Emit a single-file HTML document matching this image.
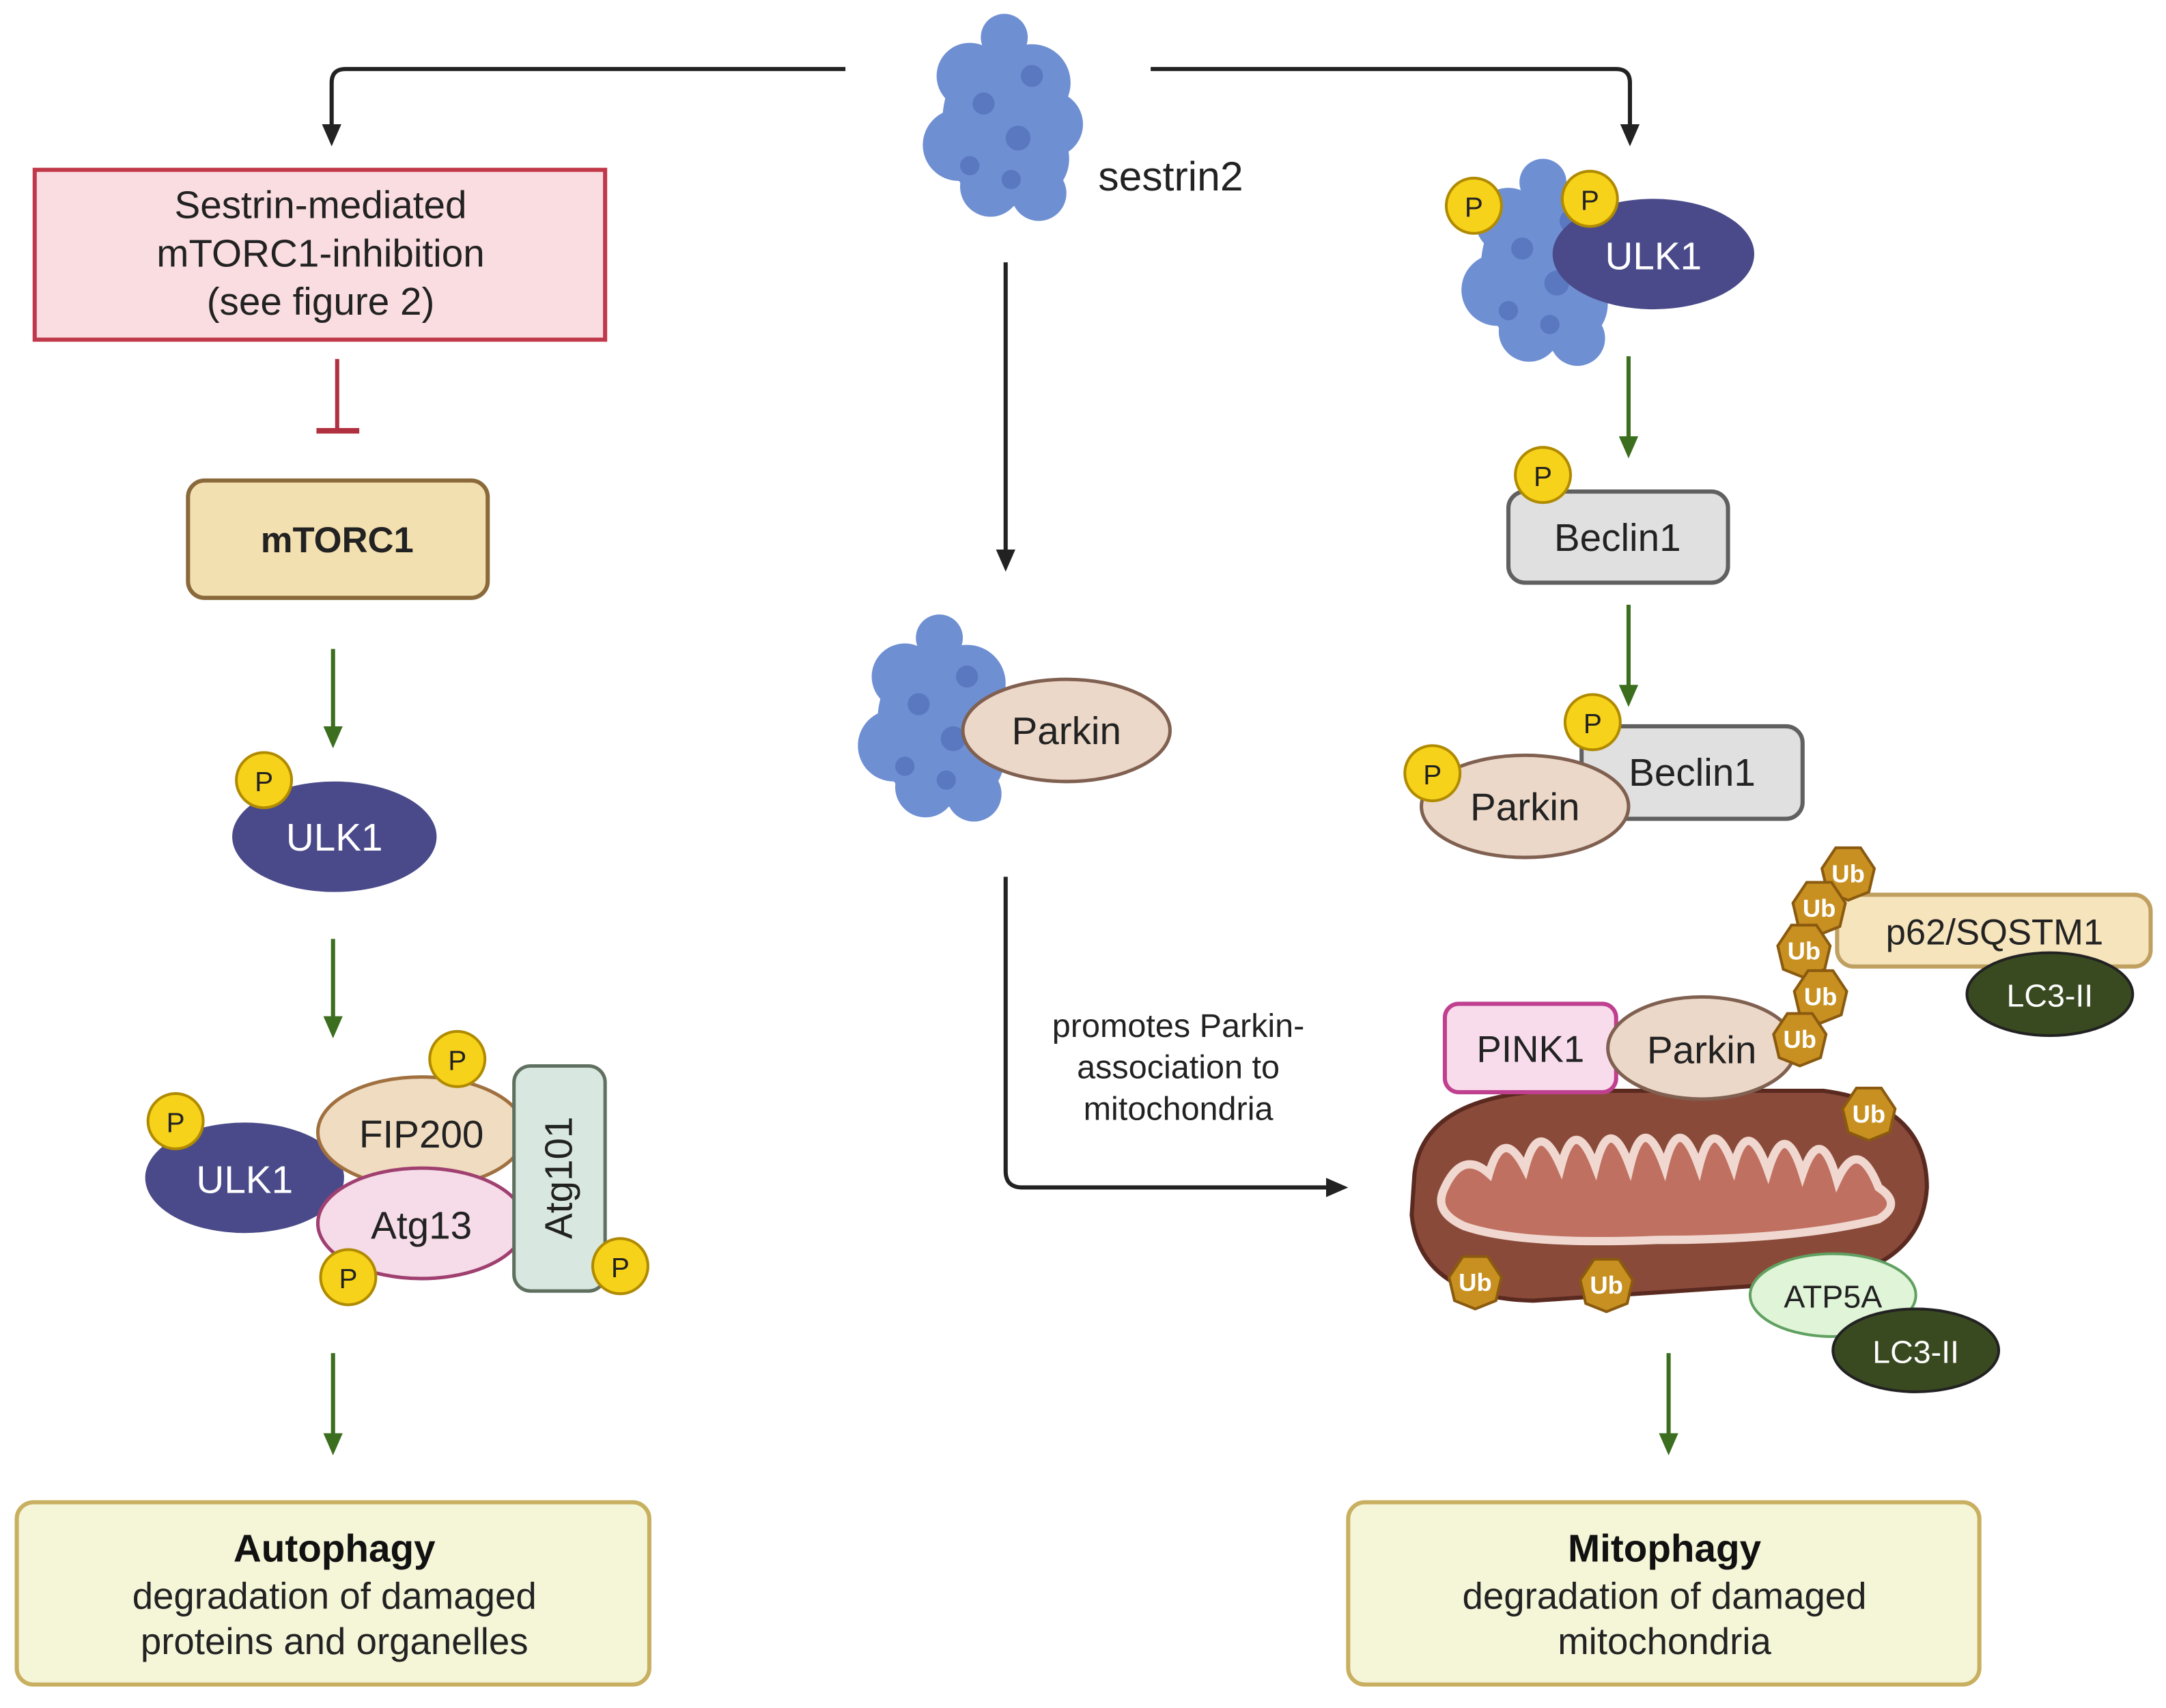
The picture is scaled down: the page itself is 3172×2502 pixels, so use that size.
<!DOCTYPE html>
<html><head><meta charset="utf-8"><style>
html,body{margin:0;padding:0;background:#fff;}
svg{display:block;}
text{font-family:"Liberation Sans",sans-serif;}
</style></head><body>
<svg width="3172" height="2502" viewBox="0 0 1568 1237" xmlns="http://www.w3.org/2000/svg">
<defs>
<marker id="ak" markerWidth="16" markerHeight="16" refX="12" refY="8" orient="auto" markerUnits="userSpaceOnUse"><path d="M0,1 L16,8 L0,15 z" fill="#222"/></marker>
<marker id="ag" markerWidth="16" markerHeight="16" refX="12" refY="8" orient="auto" markerUnits="userSpaceOnUse"><path d="M0,1 L16,8 L0,15 z" fill="#3c6e1f"/></marker>
<g id="blob">
<ellipse cx="5" cy="5" rx="45" ry="60" fill="#6f8fd3"/>
<circle cx="0" cy="0" r="32" fill="#6f8fd3"/>
<circle cx="25" cy="-25" r="28" fill="#6f8fd3"/>
<circle cx="-20" cy="-30" r="24" fill="#6f8fd3"/>
<circle cx="-28" cy="20" r="26" fill="#6f8fd3"/>
<circle cx="22" cy="30" r="30" fill="#6f8fd3"/>
<circle cx="38" cy="5" r="24" fill="#6f8fd3"/>
<circle cx="-5" cy="50" r="22" fill="#6f8fd3"/>
<circle cx="30" cy="55" r="20" fill="#6f8fd3"/>
<circle cx="5" cy="-58" r="17" fill="#6f8fd3"/>
<circle cx="-10" cy="-10" r="8" fill="#5a78c0"/>
<circle cx="15" cy="15" r="9" fill="#5a78c0"/>
<circle cx="-20" cy="35" r="7" fill="#5a78c0"/>
<circle cx="25" cy="-30" r="8" fill="#5a78c0"/>
<circle cx="10" cy="45" r="7" fill="#5a78c0"/>
</g>
<g id="P"><circle r="20" fill="#f7d21a" stroke="#b08a00" stroke-width="2"/><text y="8" text-anchor="middle" font-size="20" fill="#222">P</text></g>
<g id="Ub"><polygon points="-9,-18 9,-18 19,-3 15,14 0,20 -15,14 -19,-3" fill="#c89020" stroke="#8a5a10" stroke-width="2"/><text y="7" text-anchor="middle" font-size="18" font-weight="bold" fill="#fff">Ub</text></g>
</defs>

<path d="M612,50 H250 Q240,50 240,60 V102" fill="none" stroke="#222" stroke-width="3" marker-end="url(#ak)"/>
<path d="M833,50 H1170 Q1180,50 1180,60 V102" fill="none" stroke="#222" stroke-width="3" marker-end="url(#ak)"/>

<use href="#blob" x="722" y="85"/>
<text x="795" y="138" font-size="30" fill="#222">sestrin2</text>

<rect x="25" y="123" width="413" height="123" fill="#fadde0" stroke="#c0394a" stroke-width="3"/>
<text x="232" y="158" font-size="28" text-anchor="middle" fill="#222">Sestrin-mediated</text>
<text x="232" y="193" font-size="28" text-anchor="middle" fill="#222">mTORC1-inhibition</text>
<text x="232" y="228" font-size="28" text-anchor="middle" fill="#222">(see figure 2)</text>
<line x1="244" y1="260" x2="244" y2="312" stroke="#b03040" stroke-width="3"/>
<line x1="229" y1="312" x2="260" y2="312" stroke="#b03040" stroke-width="4"/>
<rect x="136" y="348" width="217" height="85" rx="12" fill="#f3e0b0" stroke="#8a6a3a" stroke-width="3"/>
<text x="244" y="400" font-size="26" font-weight="bold" text-anchor="middle" fill="#222">mTORC1</text>
<line x1="241" y1="470" x2="241" y2="538" stroke="#3c6e1f" stroke-width="3" marker-end="url(#ag)"/>
<ellipse cx="242" cy="606" rx="74" ry="40" fill="#4a4a8a"/>
<text x="242" y="616" font-size="28" text-anchor="middle" fill="#fff">ULK1</text>
<use href="#P" x="191" y="565"/>
<line x1="241" y1="680" x2="241" y2="748" stroke="#3c6e1f" stroke-width="3" marker-end="url(#ag)"/>

<ellipse cx="177" cy="853" rx="72" ry="40" fill="#4a4a8a"/>
<text x="177" y="864" font-size="28" text-anchor="middle" fill="#fff">ULK1</text>
<ellipse cx="305" cy="820" rx="75" ry="40" fill="#f0dcc0" stroke="#a07040" stroke-width="2.5"/>
<text x="305" y="831" font-size="28" text-anchor="middle" fill="#222">FIP200</text>
<ellipse cx="305" cy="886" rx="75" ry="40" fill="#f5dce8" stroke="#a04070" stroke-width="2.5"/>
<text x="305" y="897" font-size="28" text-anchor="middle" fill="#222">Atg13</text>
<rect x="372" y="772" width="66" height="163" rx="12" fill="#d8e8e0" stroke="#607060" stroke-width="2.5"/>
<text transform="translate(414,853) rotate(-90)" font-size="28" text-anchor="middle" fill="#222">Atg101</text>
<use href="#P" x="127" y="812"/><use href="#P" x="331" y="767"/><use href="#P" x="252" y="925"/><use href="#P" x="449" y="917"/>
<line x1="241" y1="980" x2="241" y2="1050" stroke="#3c6e1f" stroke-width="3" marker-end="url(#ag)"/>

<rect x="12" y="1088" width="458" height="132" rx="12" fill="#f5f5d8" stroke="#c8b060" stroke-width="3"/>
<text x="242" y="1131" font-size="28" font-weight="bold" text-anchor="middle" fill="#111">Autophagy</text>
<text x="242" y="1165" font-size="27" text-anchor="middle" fill="#222">degradation of damaged</text>
<text x="242" y="1198" font-size="27" text-anchor="middle" fill="#222">proteins and organelles</text>

<line x1="728" y1="190" x2="728" y2="410" stroke="#222" stroke-width="3" marker-end="url(#ak)"/>
<use href="#blob" x="675" y="520"/>
<ellipse cx="772" cy="529" rx="75" ry="37" fill="#ecd8c8" stroke="#806050" stroke-width="2.5"/>
<text x="772" y="539" font-size="28" text-anchor="middle" fill="#222">Parkin</text>
<path d="M728,635 V848 Q728,860 740,860 H972" fill="none" stroke="#222" stroke-width="3" marker-end="url(#ak)"/>
<text x="853" y="751" font-size="24" text-anchor="middle" fill="#222">promotes Parkin-</text>
<text x="853" y="781" font-size="24" text-anchor="middle" fill="#222">association to</text>
<text x="853" y="811" font-size="24" text-anchor="middle" fill="#222">mitochondria</text>

<use href="#blob" x="1112" y="190"/>
<ellipse cx="1197" cy="184" rx="73" ry="40" fill="#4a4a8a"/>
<text x="1197" y="195" font-size="28" text-anchor="middle" fill="#fff">ULK1</text>
<use href="#P" x="1067" y="149"/><use href="#P" x="1151" y="144"/>
<line x1="1179" y1="258" x2="1179" y2="328" stroke="#3c6e1f" stroke-width="3" marker-end="url(#ag)"/>
<rect x="1092" y="356" width="159" height="66" rx="12" fill="#e0e0e0" stroke="#606060" stroke-width="3"/>
<text x="1171" y="399" font-size="28" text-anchor="middle" fill="#222">Beclin1</text>
<use href="#P" x="1117" y="344"/>
<line x1="1179" y1="438" x2="1179" y2="508" stroke="#3c6e1f" stroke-width="3" marker-end="url(#ag)"/>
<rect x="1145" y="526" width="160" height="67" rx="12" fill="#e0e0e0" stroke="#606060" stroke-width="3"/>
<text x="1225" y="569" font-size="28" text-anchor="middle" fill="#222">Beclin1</text>
<ellipse cx="1104" cy="584" rx="75" ry="37" fill="#ecd8c8" stroke="#806050" stroke-width="2.5"/>
<text x="1104" y="594" font-size="28" text-anchor="middle" fill="#222">Parkin</text>
<use href="#P" x="1153" y="523"/><use href="#P" x="1037" y="560"/>

<path d="M1024,850 Q1030,795 1120,790 L1320,790 Q1395,800 1395,860 Q1392,915 1320,928 L1110,942 Q1028,940 1022,880 Z" fill="#8a4a3a" stroke="#5a2a20" stroke-width="3"/>
<path d="M1045,862 Q1058,832 1078,850 Q1088,815 1104,846 Q1114,808 1130,845 Q1140,806 1155,845 Q1165,804 1180,845 Q1190,803 1205,845 Q1215,803 1230,845 Q1240,804 1255,845 Q1265,806 1280,848 Q1292,808 1305,850 Q1318,812 1330,855 Q1345,822 1360,860 Q1378,872 1360,883 Q1300,898 1200,898 Q1100,902 1060,888 Q1038,878 1045,862 z" fill="#c07060" stroke="#f0d8d0" stroke-width="6"/>
<rect x="1046" y="727" width="124" height="64" rx="10" fill="#f8dcec" stroke="#c04090" stroke-width="3"/>
<text x="1108" y="769" font-size="27" text-anchor="middle" fill="#222">PINK1</text>
<ellipse cx="1232" cy="759" rx="68" ry="37" fill="#ecd8c8" stroke="#806050" stroke-width="2.5"/>
<text x="1232" y="770" font-size="28" text-anchor="middle" fill="#222">Parkin</text>
<rect x="1330" y="648" width="227" height="52" rx="12" fill="#f5e4bc" stroke="#c0a060" stroke-width="3"/>
<text x="1444" y="684" font-size="26" text-anchor="middle" fill="#222">p62/SQSTM1</text>
<ellipse cx="1484" cy="720" rx="60" ry="30" fill="#3a4a20" stroke="#222" stroke-width="2"/>
<text x="1484" y="729" font-size="23" text-anchor="middle" fill="#fff">LC3-II</text>
<ellipse cx="1327" cy="938" rx="60" ry="30" fill="#e0f4d8" stroke="#60a060" stroke-width="2"/>
<text x="1327" y="947" font-size="23" text-anchor="middle" fill="#222">ATP5A</text>
<ellipse cx="1387" cy="978" rx="60" ry="30" fill="#3a4a20" stroke="#222" stroke-width="2"/>
<text x="1387" y="987" font-size="23" text-anchor="middle" fill="#fff">LC3-II</text>
<use href="#Ub" x="1338" y="632"/><use href="#Ub" x="1317" y="657"/><use href="#Ub" x="1306" y="688"/><use href="#Ub" x="1318" y="721"/><use href="#Ub" x="1303" y="752"/><use href="#Ub" x="1353" y="806"/><use href="#Ub" x="1068" y="928"/><use href="#Ub" x="1163" y="930"/>
<line x1="1208" y1="980" x2="1208" y2="1050" stroke="#3c6e1f" stroke-width="3" marker-end="url(#ag)"/>

<rect x="976" y="1088" width="457" height="132" rx="12" fill="#f5f5d8" stroke="#c8b060" stroke-width="3"/>
<text x="1205" y="1131" font-size="28" font-weight="bold" text-anchor="middle" fill="#111">Mitophagy</text>
<text x="1205" y="1165" font-size="27" text-anchor="middle" fill="#222">degradation of damaged</text>
<text x="1205" y="1198" font-size="27" text-anchor="middle" fill="#222">mitochondria</text>
</svg>
</body></html>
